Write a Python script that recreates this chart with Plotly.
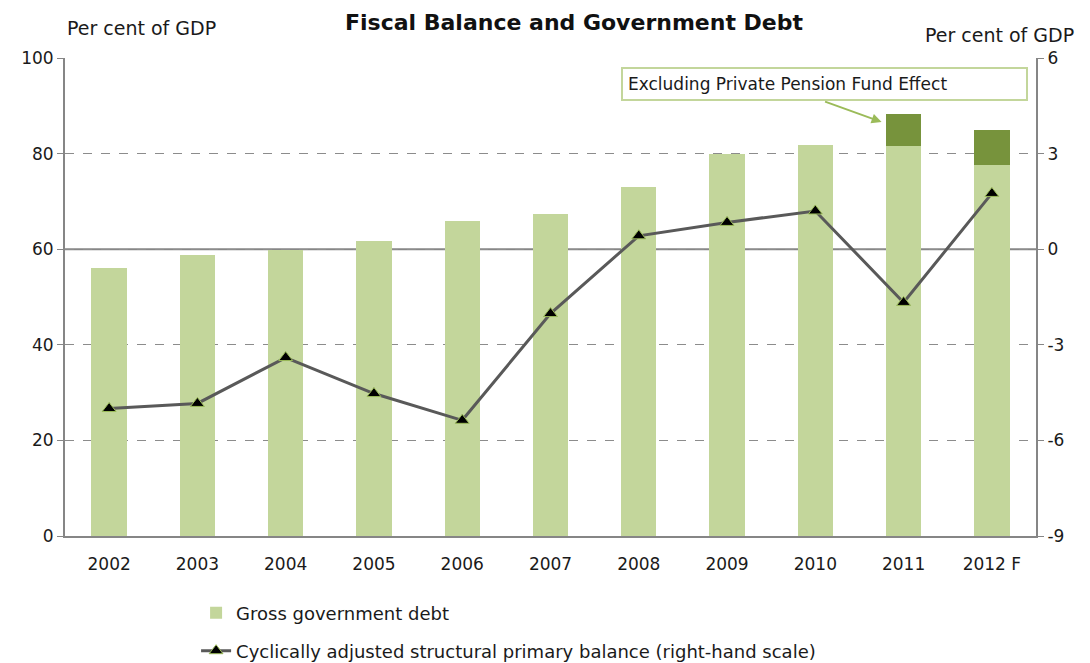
import plotly.graph_objects as go

years = ["2002", "2003", "2004", "2005", "2006", "2007", "2008", "2009", "2010", "2011", "2012 F"]
gross_debt = [56.0, 58.7, 59.8, 61.7, 66.0, 67.3, 73.0, 79.9, 81.9, 81.6, 77.6]
pension_effect = [0, 0, 0, 0, 0, 0, 0, 0, 0, 6.7, 7.3]
primary_balance = [-5.0, -4.84, -3.40, -4.53, -5.37, -2.02, 0.42, 0.84, 1.20, -1.67, 1.75]
left_ticks = [0, 20, 40, 60, 80, 100]
right_ticks = [-9, -6, -3, 0, 3, 6]
right_tick_text = ["-9", "-6", "-3", "0", "3", "6"]

FONT = "DejaVu Sans"
LIGHT = "#c3d69b"
DARK = "#77933c"
AXIS = "#868686"

fig = go.Figure()
fig.add_trace(go.Bar(x=years, y=gross_debt, name="Gross government debt",
                     marker=dict(color=LIGHT, line=dict(width=0)), width=0.4,
                     legend="legend"))
fig.add_trace(go.Bar(x=years, y=pension_effect, name="Excluding Private Pension Fund Effect",
                     marker=dict(color=DARK, line=dict(width=0)), width=0.4, showlegend=False))
fig.add_trace(go.Scatter(x=years, y=primary_balance, yaxis="y2", mode="lines+markers",
                         name="Cyclically adjusted structural primary balance (right-hand scale)",
                         line=dict(color="#595959", width=3),
                         marker=dict(symbol="triangle-up", size=12, color="black",
                                     line=dict(color="#9bbb59", width=1)),
                         legend="legend2"))

idx_2011 = years.index("2011")
legend_common = dict(x=0.135, yref="container", xanchor="left", yanchor="middle",
                     orientation="v", font=dict(family=FONT, size=18, color="#1a1a1a"),
                     itemwidth=30, bgcolor="rgba(0,0,0,0)")

fig.update_layout(
    width=1090, height=663,
    margin=dict(l=65, r=54, t=58, b=127),
    barmode="stack",
    plot_bgcolor="white", paper_bgcolor="white",
    font=dict(family=FONT, size=16, color="#1a1a1a"),
    showlegend=True,
    legend=dict(y=1 - 613 / 663, **legend_common),
    legend2=dict(y=1 - 651 / 663, **legend_common),
    xaxis=dict(type="category", range=[-0.5, len(years) - 0.5], showline=True,
               linecolor=AXIS, linewidth=2, ticks="",
               tickfont=dict(size=17, family=FONT), ticklabelstandoff=12,
               showgrid=False, mirror=False),
    yaxis=dict(range=[0, 100], tickvals=left_ticks, showline=True, linecolor=AXIS, linewidth=2,
               ticks="outside", tickcolor=AXIS, ticklen=6,
               showgrid=True, gridcolor="#8c8c8c", griddash="dash", gridwidth=1,
               zeroline=False, tickfont=dict(size=17, family=FONT)),
    yaxis2=dict(range=[-9, 6], tickvals=right_ticks, ticktext=right_tick_text,
                overlaying="y", side="right", showline=True,
                linecolor=AXIS, linewidth=2, ticks="outside", tickcolor=AXIS,
                ticklen=6, showgrid=False, zeroline=False,
                tickfont=dict(size=17, family=FONT)),
    shapes=[dict(type="line", xref="paper", x0=0, x1=1, yref="y2", y0=0, y1=0,
                 line=dict(color=AXIS, width=2), layer="below")],
    annotations=[
        dict(text="<b>Fiscal Balance and Government Debt</b>", xref="paper", yref="paper",
             x=0.525, y=1.0, yshift=36, xanchor="center", yanchor="middle", showarrow=False,
             font=dict(size=22, family=FONT, color="#111")),
        dict(text="Per cent of GDP", xref="paper", yref="paper", x=0.0, y=1.0, yshift=30,
             xanchor="left", yanchor="middle", showarrow=False, font=dict(size=19, family=FONT)),
        dict(text="Per cent of GDP", xref="paper", yref="paper", x=1.0, xshift=40, y=1.0, yshift=23,
             xanchor="right", yanchor="middle", showarrow=False, font=dict(size=19, family=FONT)),
        dict(text="Excluding Private Pension Fund Effect", xref="paper", yref="paper",
             x=0.573, y=0.9446, xanchor="left", yanchor="middle", showarrow=False,
             font=dict(size=17, family=FONT), bordercolor="#c3d69b", borderwidth=2,
             borderpad=5, bgcolor="white", width=393, align="left"),
        dict(text="", xref="x", yref="y", x=idx_2011, y=86.6, xshift=-22,
             ax=-58, ay=-21, showarrow=True, arrowhead=2, arrowsize=1, arrowwidth=2,
             arrowcolor="#9bbb59", standoff=0),
    ],
)

fig.write_html("out.html")
